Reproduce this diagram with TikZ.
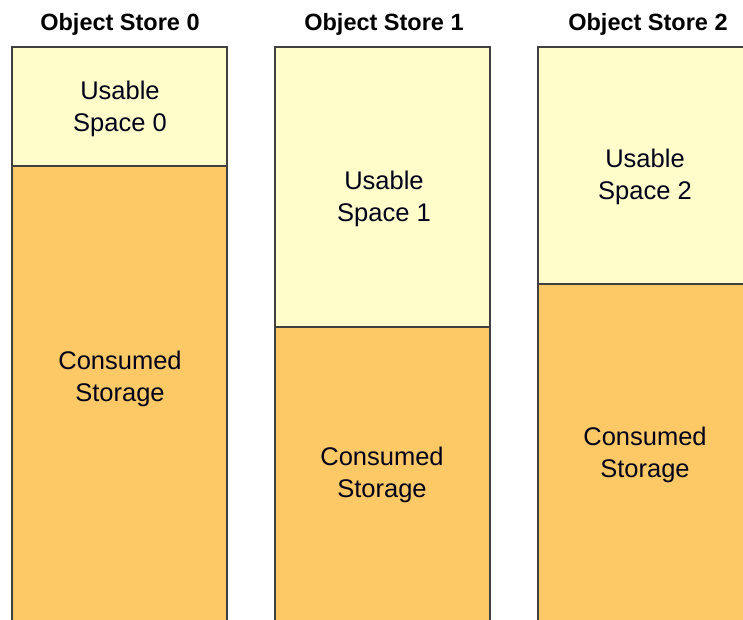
\documentclass[tikz,border=0pt]{standalone}
\usepackage{fontspec}
\setmainfont{Liberation Sans}
\definecolor{usable}{HTML}{FFFDCA}
\definecolor{consumed}{HTML}{FDC966}
\tikzset{
  part/.style={draw=black!75, line width=1.5pt},
  lbl/.style={align=center, font=\fontsize{25.5}{32}\selectfont, text=black!90!blue},
  head/.style={font=\bfseries\fontsize{23.5}{28}\selectfont}
}

\begin{document}
\begin{tikzpicture}[x=1pt,y=-1pt]
\useasboundingbox (0,0) rectangle (743,619);
\clip (0,0) rectangle (743,619);
% colonnes : espace libre en haut, stockage en bas
\filldraw[part, fill=usable] (12,47) rectangle (227,166);
\filldraw[part, fill=consumed] (12,166) rectangle (227,650);
\filldraw[part, fill=usable] (275,47) rectangle (490,327);
\filldraw[part, fill=consumed] (275,327) rectangle (490,650);
\filldraw[part, fill=usable] (538,47) rectangle (753,284);
\filldraw[part, fill=consumed] (538,284) rectangle (753,650);
% titres
\node[head] (os0) at (120,24) {Object Store 0};
\node[head] (os1) at (384,24) {Object Store 1};
\node[head] (os2) at (648,24) {Object Store 2};
% textes
\node[lbl] (us0) at (120,109) {Usable\\Space 0};
\node[lbl] (us1) at (384,199) {Usable\\Space 1};
\node[lbl] (us2) at (645,177) {Usable\\Space 2};
\node[lbl] (cs0) at (120,379) {Consumed\\Storage};
\node[lbl] (cs1) at (382,475) {Consumed\\Storage};
\node[lbl] (cs2) at (645,455) {Consumed\\Storage};
\end{tikzpicture}
\end{document}
